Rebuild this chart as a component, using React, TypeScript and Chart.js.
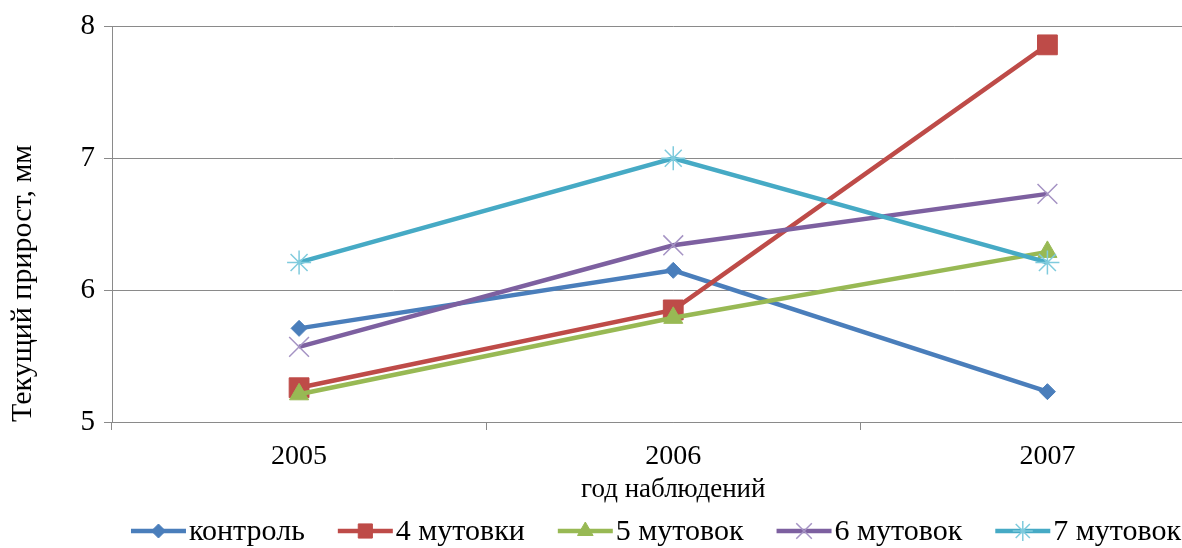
import React, { useEffect, useRef } from 'react';
import { Chart, registerables } from 'chart.js';
import { drawPoint } from 'chart.js/helpers';

Chart.register(...registerables);

// ---- data ----
const categories = ['2005', '2006', '2007'];
const seriesNames = ['контроль', '4 мутовки', '5 мутовок', '6 мутовок', '7 мутовок'];
const control = [5.71, 6.15, 5.23];
const whorls4 = [5.26, 5.85, 7.86];
const whorls5 = [5.21, 5.79, 6.29];
const whorls6 = [5.57, 6.34, 6.73];
const whorls7 = [6.21, 7.0, 6.21];
const yTickValues = [5, 6, 7, 8];
const xTitle = 'год наблюдений';
const yTitle = 'Текущий прирост, мм';

// ---- styles ----
const lineColors = ['#4A7EBB', '#BE4B48', '#98B954', '#7D60A0', '#46AAC5'];
const markerFill = ['#4A7EBB', '#BE4B48', '#98B954', '#A593C4', '#7FCBDD'];
const markerStyles = ['rectRot', 'rect', 'triangle', 'crossRot', 'star'];
const markerRadius = [8, 14, 11, 14, 12];
const markerBorder = [1, 1, 1, 1.5, 1.5];
const legendRadius = [7, 10, 9, 11, 10];

const FONT = '"Liberation Serif", "Times New Roman", serif';
const GRID = '#8a8a8a';

const legendPlugin = {
  id: 'customLegend',
  afterDraw(chart: any) {
    const ctx = chart.ctx as CanvasRenderingContext2D;
    ctx.save();
    ctx.font = `30px ${FONT}`;
    const lineLen = 55;
    const textGap = 3;
    const itemGap = 33;
    const dsets = chart.data.datasets;
    const widths = dsets.map((d: any) => ctx.measureText(d.label).width);
    const total = widths.reduce((s: number, w: number) => s + lineLen + textGap + w, 0) + itemGap * (dsets.length - 1);
    let x = 656 - total / 2;
    const y = 531;
    dsets.forEach((d: any, i: number) => {
      ctx.strokeStyle = lineColors[i];
      ctx.lineWidth = 4.5;
      ctx.beginPath();
      ctx.moveTo(x, y);
      ctx.lineTo(x + lineLen, y);
      ctx.stroke();
      ctx.fillStyle = markerFill[i];
      ctx.strokeStyle = markerFill[i];
      ctx.lineWidth = markerBorder[i];
      drawPoint(ctx, { pointStyle: markerStyles[i], radius: legendRadius[i], borderWidth: markerBorder[i], rotation: 0 } as any, x + lineLen / 2, y);
      ctx.fillStyle = '#000';
      ctx.textAlign = 'left';
      ctx.textBaseline = 'middle';
      ctx.fillText(d.label, x + lineLen + textGap, y + 1);
      x += lineLen + textGap + widths[i] + itemGap;
    });
    ctx.restore();
  },
};

export default function App() {
  const ref = useRef<HTMLCanvasElement>(null);
  useEffect(() => {
    const values = [control, whorls4, whorls5, whorls6, whorls7];
    const chart = new Chart(ref.current as HTMLCanvasElement, {
      type: 'line',
      data: {
        labels: categories,
        datasets: values.map((v, i) => ({
          label: seriesNames[i],
          data: v,
          borderColor: lineColors[i],
          backgroundColor: markerFill[i],
          borderWidth: 4.5,
          tension: 0,
          pointStyle: markerStyles[i] as any,
          pointRadius: markerRadius[i],
          pointBackgroundColor: markerFill[i],
          pointBorderColor: markerFill[i],
          pointBorderWidth: markerBorder[i],
          order: values.length - i,
          clip: false as any,
        })),
      },
      options: {
        animation: false,
        responsive: false,
        devicePixelRatio: 1,
        events: [],
        layout: { padding: { top: 25, right: 13, bottom: 41, left: 0 } },
        plugins: { legend: { display: false }, tooltip: { enabled: false } },
        scales: {
          x: {
            offset: true,
            grid: { display: true, drawOnChartArea: false, drawTicks: true, tickLength: 8, offset: true, color: GRID },
            border: { display: true, color: GRID },
            ticks: { font: { family: FONT, size: 28 }, color: '#000', padding: 10 },
            title: { display: true, text: xTitle, font: { family: FONT, size: 27 }, color: '#000', padding: { top: 0, bottom: 1 } },
            afterFit: (s: any) => { s.height = 85; },
          },
          y: {
            min: 5,
            max: 8,
            afterBuildTicks: (s: any) => { s.ticks = yTickValues.map((v) => ({ value: v })); },
            grid: { color: GRID, tickLength: 8, drawTicks: true },
            border: { display: true, color: GRID },
            ticks: { font: { family: FONT, size: 29 }, color: '#000', padding: 9 },
            title: { display: true, text: yTitle, align: 'start', font: { family: FONT, size: 30 }, color: '#000', padding: { top: 5, bottom: 0 } },
            afterFit: (s: any) => { s.width = 112; },
          },
        },
      },
      plugins: [legendPlugin],
    });
    return () => chart.destroy();
  }, []);
  return (
    <div style={{ position: 'fixed', left: 0, top: 0, width: 1182, height: 548, overflow: 'hidden', background: '#fff' }}>
      <canvas ref={ref} width={1250} height={548} style={{ display: 'block', width: 1250, height: 548 }} />
    </div>
  );
}
